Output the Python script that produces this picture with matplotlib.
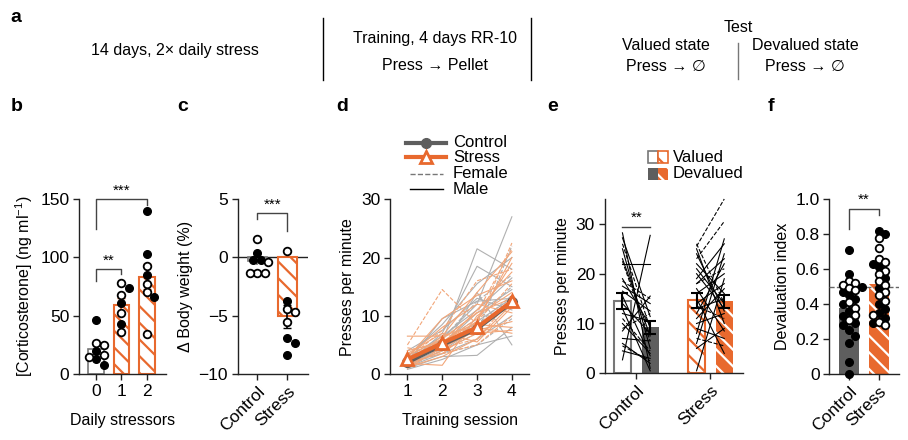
import numpy as np
import matplotlib
matplotlib.use('Agg')
import matplotlib.pyplot as plt
import matplotlib.transforms as mtransforms
from matplotlib.lines import Line2D
from matplotlib.patches import Rectangle

plt.rcParams['font.family'] = ['Liberation Sans', 'DejaVu Sans']
plt.rcParams['font.size'] = 11.5
plt.rcParams['mathtext.default'] = 'regular'
plt.rcParams['hatch.linewidth'] = 1.6
plt.rcParams['axes.linewidth'] = 1.0

ORANGE = '#e8692e'
DGRAY = '#5e5e5e'
LGRAY = '#b0b0b0'
LORANGE = '#f2a679'
INK = '#222222'

# ---- data ----
# b: corticosterone per number of daily stressors
b_groups = ['0', '1', '2']
b_filled = [[46, 20, 13, 8], [74, 61, 43], [140, 103, 85, 66]]
b_open = [[25, 27, 15, 16], [78, 68, 52, 36], [93, 77, 70, 34]]

# c: body weight change
c_groups = ['Control', 'Stress']
c_filled = [[0.4, -0.2, -0.2], [-3.7, -6.9, -7.3, -8.4]]
c_open = [[1.6, -0.4, -1.3, -1.3, -1.3], [0.55, -4.7, -4.4, -5.5]]

# d: training sessions
sessions = [1, 2, 3, 4]
ctrl_mean = [2.0, 5.0, 7.8, 12.3]
ctrl_sem = [0.3, 0.4, 0.6, 0.9]
stress_mean = [2.5, 5.3, 8.0, 12.5]
stress_sem = [0.3, 0.4, 0.6, 0.9]
ctrl_male = [
    [1.5, 4.5, 9.0, 13.0], [2.0, 6.0, 12.0, 27.0], [2.5, 5.5, 21.5, 18.0],
    [1.8, 7.0, 18.5, 15.0], [3.0, 8.5, 15.5, 20.0], [1.2, 3.5, 6.0, 10.0],
    [2.2, 5.0, 10.5, 14.5], [3.5, 4.0, 14.0, 5.0], [1.0, 3.0, 3.2, 8.0],
    [2.8, 6.5, 11.0, 16.5], [1.5, 4.0, 8.0, 12.0], [4.0, 7.5, 13.0, 11.0],
    [0.8, 2.5, 5.0, 6.5], [2.0, 9.5, 12.5, 13.0],
]
ctrl_female = [
    [2.0, 5.5, 9.5, 15.0], [1.3, 4.0, 7.0, 22.0], [2.5, 6.0, 12.5, 17.0],
    [1.8, 3.5, 5.0, 9.5], [3.0, 5.0, 8.5, 13.5],
]
stress_male = [
    [2.0, 6.5, 14.0, 21.0], [4.0, 5.5, 9.0, 20.0], [1.5, 4.0, 7.0, 7.5],
    [6.5, 6.5, 8.5, 8.0], [2.5, 5.0, 11.0, 17.5], [3.0, 8.0, 12.0, 10.5],
    [1.2, 3.0, 6.0, 12.0], [2.2, 5.5, 9.5, 19.0], [3.5, 7.0, 5.5, 11.5],
    [1.8, 1.5, 10.0, 14.0], [2.8, 9.5, 13.5, 16.0], [1.0, 4.5, 7.5, 9.0],
    [2.0, 3.5, 8.0, 7.0], [3.2, 6.0, 10.5, 13.0],
]
stress_female = [
    [5.0, 14.5, 8.5, 22.5], [2.0, 6.0, 10.5, 21.5], [3.0, 4.5, 6.0, 13.0],
    [2.5, 7.5, 16.0, 18.0], [1.5, 5.0, 9.0, 15.5], [4.5, 3.5, 5.0, 10.0],
]

# e: valued vs devalued test
e_groups = ['Control', 'Stress']
e_val_mean = [14.5, 14.7]
e_val_sem = [1.6, 1.5]
e_dev_mean = [9.2, 14.5]
e_dev_sem = [1.4, 1.3]
e_ctrl_male_val = [28.2, 27.2, 2.7, 21.9, 25.0, 19.0, 17.5, 15.5, 14.0, 12.0, 10.0, 8.5, 7.0, 6.0, 4.5, 16.5, 23.0, 13.0]
e_ctrl_male_dev = [1.0, 11.4, 27.7, 21.9, 5.0, 9.5, 14.0, 3.5, 8.0, 10.5, 4.0, 15.5, 6.5, 2.0, 3.0, 12.5, 7.5, 0.5]
e_ctrl_fem_val = [26.0, 22.5, 18.5, 11.0, 9.0, 5.5]
e_ctrl_fem_dev = [9.0, 6.5, 15.0, 4.5, 12.0, 2.5]
e_str_male_val = [0.5, 5.0, 6.0, 8.0, 10.0, 12.0, 14.0, 15.0, 17.0, 19.0, 21.0, 22.0, 24.0, 25.0, 20.0, 16.0, 13.0, 11.0, 9.0, 18.0]
e_str_male_dev = [19.0, 9.0, 24.0, 27.0, 12.0, 22.0, 18.0, 4.0, 8.5, 26.0, 14.0, 16.0, 12.5, 10.0, 13.0, 20.0, 15.0, 17.0, 7.0, 23.0]
e_str_fem_val = [25.5, 23.0, 18.0, 26.0, 7.0, 13.5]
e_str_fem_dev = [35.0, 30.5, 21.0, 14.0, 5.5, 11.0]

# f: devaluation index
f_groups = ['Control', 'Stress']
f_filled = [[0.71, 0.57, 0.50, 0.47, 0.45, 0.43, 0.40, 0.36, 0.33, 0.29, 0.28, 0.25, 0.22, 0.18, 0.07, 0.0],
            [0.82, 0.80, 0.63, 0.61, 0.55, 0.49, 0.40, 0.37, 0.35, 0.32, 0.29]]
f_open = [[0.53, 0.52, 0.51, 0.49, 0.48, 0.41, 0.38, 0.34, 0.31],
          [0.78, 0.72, 0.66, 0.64, 0.59, 0.57, 0.53, 0.51, 0.47, 0.45, 0.42, 0.34, 0.30, 0.28]]

# ---- figure ----
W, H = 908, 440
fig = plt.figure(figsize=(W / 100, H / 100), dpi=100)
px = mtransforms.Affine2D().scale(1 / W, -1 / H).translate(0, 1) + fig.transFigure


def make_axes(left, top, right, bottom):
    ax = fig.add_axes([left / W, 1 - bottom / H, (right - left) / W, (bottom - top) / H])
    ax.spines['top'].set_visible(False)
    ax.spines['right'].set_visible(False)
    for s in ('left', 'bottom'):
        ax.spines[s].set_color(INK)
    ax.tick_params(direction='out', length=4, width=1, color=INK, labelsize=12.5, pad=3)
    ax.set_facecolor('none')
    return ax


def swarm_x(ax, x0, vals, diam=7.5):
    trans = ax.transData
    inv = trans.inverted()
    vals = np.asarray(vals, float)
    order = np.argsort(-vals)
    step = diam * 0.5
    cands = [0.0] + [step * m for j in range(1, 25) for m in (j, -j)]
    placed = []
    xs = np.zeros(len(vals))
    for i in order:
        cx, cy = trans.transform((x0, vals[i]))
        for o in cands:
            if all(np.hypot(cx + o - a, cy - b) >= diam for a, b in placed):
                break
        placed.append((cx + o, cy))
        xs[i] = inv.transform((cx + o, cy))[0]
    return xs


def dots(ax, x0, filled, opened, diam=7.5):
    vals = list(filled) + list(opened)
    xs = swarm_x(ax, x0, vals, diam)
    nf = len(filled)
    ax.plot(xs[:nf], vals[:nf], 'o', ls='none', ms=5.5, mfc='black', mec='black',
            clip_on=False, zorder=5)
    ax.plot(xs[nf:], vals[nf:], 'o', ls='none', ms=5.5, mfc='white', mec='black',
            mew=1.3, clip_on=False, zorder=5)


def bracket(ax, x0, x1, yh, yl0, yl1, txt, ty):
    ax.plot([x0, x0, x1, x1], [yl0, yh, yh, yl1], color='#444444', lw=1, clip_on=False)
    ax.text((x0 + x1) / 2, ty, txt, ha='center', va='bottom', fontsize=11, clip_on=False)


def mean_sem(v):
    v = np.asarray(v, float)
    return v.mean(), v.std(ddof=1) / np.sqrt(len(v))


# ---- panel a ----
fig.text(16, 22, 'a', transform=px, fontsize=14, fontweight='bold', ha='center', va='baseline')
fig.text(175, 50, '14 days, 2\u00d7 daily stress', transform=px, ha='center', va='center')
fig.text(435, 39, 'Training, 4 days RR-10', transform=px, ha='center', va='center')
fig.text(435, 65, 'Press \u2192 Pellet', transform=px, ha='center', va='center')
fig.text(738, 28, 'Test', transform=px, ha='center', va='center')
fig.text(666, 46, 'Valued state', transform=px, ha='center', va='center')
fig.text(666, 66, 'Press \u2192 \u2205', transform=px, ha='center', va='center')
fig.text(805, 46, 'Devalued state', transform=px, ha='center', va='center')
fig.text(805, 66, 'Press \u2192 \u2205', transform=px, ha='center', va='center')
fig.add_artist(Line2D([322.7, 322.7], [18, 80], transform=px, color='black', lw=1))
fig.add_artist(Line2D([531, 531], [18, 80], transform=px, color='black', lw=1))
fig.add_artist(Line2D([738, 738], [43, 79], transform=px, color='#777777', lw=1))

for lab, x in [('b', 17), ('c', 183), ('d', 342), ('e', 553), ('f', 771)]:
    fig.text(x, 111, lab, transform=px, fontsize=14, fontweight='bold', ha='center', va='baseline')

# ---- panel b ----
axb = make_axes(79, 199, 166, 374)
axb.set_xlim(-0.67, 2.75)
axb.set_ylim(0, 150)
axb.set_yticks([0, 50, 100, 150])
axb.set_xticks(range(3))
axb.set_xticklabels(b_groups)
for i in range(3):
    m, s = mean_sem(b_filled[i] + b_open[i])
    if i == 0:
        axb.bar(i, m, width=0.62, facecolor='white', edgecolor='#777777', lw=1.2, zorder=2)
        ec = '#777777'
    else:
        axb.bar(i, m, width=0.62, facecolor='white', edgecolor=ORANGE, hatch='\\\\', lw=1.5, zorder=2)
        ec = ORANGE
    axb.errorbar(i, m, yerr=s, color=ec, capsize=3, lw=1.2, zorder=3)
    dots(axb, i, b_filled[i], b_open[i])
bracket(axb, 0, 1, 90, 80, 86, '**', 91)
bracket(axb, 0, 2, 150, 124, 145, '***', 151)
axb.set_ylabel('[Corticosterone] (ng ml$^{-1}$)')
axb.set_xlabel('Daily stressors', labelpad=10)

# ---- panel c ----
axc = make_axes(237.7, 199, 307.7, 374)
axc.set_xlim(-0.65, 1.68)
axc.set_ylim(-10, 5)
axc.set_yticks([-10, -5, 0, 5])
axc.set_xticks([0, 1])
axc.set_xticklabels(c_groups, rotation=45, ha='right', rotation_mode='anchor')
axc.axhline(0, color=INK, lw=1, zorder=1)
for i in range(2):
    m, s = mean_sem(c_filled[i] + c_open[i])
    if i == 0:
        axc.bar(i, m, width=0.63, facecolor='white', edgecolor='#777777', lw=1.2, zorder=2)
        axc.errorbar(i, m, yerr=s, color='#777777', capsize=0, lw=1.2, zorder=3)
    else:
        axc.bar(i, m, width=0.63, facecolor='white', edgecolor=ORANGE, hatch='\\\\', lw=1.5, zorder=2)
        axc.errorbar(i, m, yerr=s, color='black', capsize=3, lw=1.2, zorder=3)
    dots(axc, i, c_filled[i], c_open[i])
bracket(axc, 0, 1, 3.77, 3.3, 2.3, '***', 3.9)
axc.set_ylabel('\u0394 Body weight (%)')

# ---- panel d ----
axd = make_axes(390, 199.3, 529.3, 374)
axd.set_xlim(0.5, 4.5)
axd.set_ylim(0, 30)
axd.set_yticks([0, 10, 20, 30])
axd.set_xticks(sessions)
for row in ctrl_male:
    axd.plot(sessions, row, color=LGRAY, lw=0.8, zorder=2)
for row in ctrl_female:
    axd.plot(sessions, row, color=LGRAY, lw=0.8, ls='--', zorder=2)
for row in stress_male:
    axd.plot(sessions, row, color=LORANGE, lw=0.8, zorder=2)
for row in stress_female:
    axd.plot(sessions, row, color=LORANGE, lw=0.8, ls='--', zorder=2)
axd.errorbar(sessions, ctrl_mean, yerr=ctrl_sem, color=DGRAY, lw=3, marker='o', ms=7,
             mfc=DGRAY, mec=DGRAY, capsize=0, zorder=4)
axd.errorbar(sessions, stress_mean, yerr=stress_sem, color=ORANGE, lw=3, marker='^', ms=8,
             mfc='white', mec=ORANGE, mew=2, capsize=0, zorder=5)
axd.set_ylabel('Presses per minute')
axd.set_xlabel('Training session', labelpad=10)

# legend d
fig.add_artist(Line2D([406, 446], [142.7, 142.7], transform=px, color=DGRAY, lw=3))
fig.add_artist(Line2D([426], [142.7], transform=px, color=DGRAY, marker='o', ms=7))
fig.add_artist(Line2D([406, 446], [157, 157], transform=px, color=ORANGE, lw=3))
fig.add_artist(Line2D([426], [157], transform=px, color=ORANGE, marker='^', ms=8, mfc='white', mew=2))
fig.add_artist(Line2D([410, 443], [174, 174], transform=px, color='#777777', lw=1, ls='--'))
fig.add_artist(Line2D([410, 443], [189, 189], transform=px, color='black', lw=1))
for txt, y in [('Control', 142.7), ('Stress', 157), ('Female', 174), ('Male', 189)]:
    fig.text(453, y, txt, transform=px, ha='left', va='center', fontsize=12)

# ---- panel e ----
axe = make_axes(604.7, 199, 743, 373.3)
axe.set_xlim(-0.427, 1.44)
axe.set_ylim(0, 35)
axe.set_yticks([0, 10, 20, 30])
axe.set_xticks([0, 1])
axe.set_xticklabels(e_groups, rotation=45, ha='right', rotation_mode='anchor')
off, bw = 0.187, 0.23
axe.bar(0 - off, e_val_mean[0], width=bw, facecolor='white', edgecolor='#777777', lw=1.5, zorder=2)
axe.bar(0 + off, e_dev_mean[0], width=bw, facecolor=DGRAY, edgecolor=DGRAY, lw=0, zorder=2)
axe.bar(1 - off, e_val_mean[1], width=bw, facecolor='white', edgecolor=ORANGE, hatch='\\\\', lw=1.5, zorder=2)
axe.bar(1 + off, e_dev_mean[1], width=bw, facecolor=ORANGE, edgecolor='white', hatch='\\\\', lw=0, zorder=2)
for g, (mv, md) in enumerate([(e_ctrl_male_val, e_ctrl_male_dev), (e_str_male_val, e_str_male_dev)]):
    for a, b in zip(mv, md):
        axe.plot([g - off, g + off], [a, b], color='black', lw=0.8, zorder=3)
for g, (fv, fd) in enumerate([(e_ctrl_fem_val, e_ctrl_fem_dev), (e_str_fem_val, e_str_fem_dev)]):
    for a, b in zip(fv, fd):
        axe.plot([g - off, g + off], [a, b], color='black', lw=0.8, ls='--', zorder=3, clip_on=False)
for g in range(2):
    axe.errorbar(g - off, e_val_mean[g], yerr=e_val_sem[g], color='black', capsize=4, lw=1.5, capthick=1.5, zorder=4)
    axe.errorbar(g + off, e_dev_mean[g], yerr=e_dev_sem[g], color='black', capsize=4, lw=1.5, capthick=1.5, zorder=4)
axe.plot([-off, off], [29.4, 29.4], color='#444444', lw=1)
axe.text(0, 29.8, '**', ha='center', va='bottom', fontsize=11)
axe.set_ylabel('Presses per minute')

# legend e
fig.add_artist(Rectangle((648.3, 151), 10, 12, transform=px, facecolor='white', edgecolor='#777777', lw=1.2))
fig.add_artist(Rectangle((658.3, 151), 10, 12, transform=px, facecolor='white', edgecolor=ORANGE, hatch='\\\\', lw=1.2))
fig.add_artist(Rectangle((648.3, 167.7), 10, 12, transform=px, facecolor=DGRAY, edgecolor=DGRAY, lw=0))
fig.add_artist(Rectangle((658.3, 167.7), 10, 12, transform=px, facecolor=ORANGE, edgecolor='white', hatch='\\\\', lw=0))
fig.text(673, 157, 'Valued', transform=px, ha='left', va='center', fontsize=12)
fig.text(673, 173.7, 'Devalued', transform=px, ha='left', va='center', fontsize=12)

# ---- panel f ----
axf = make_axes(829.3, 199, 899, 374)
axf.set_xlim(-0.657, 1.667)
axf.set_ylim(0, 1)
axf.set_yticks([0, 0.2, 0.4, 0.6, 0.8, 1.0])
axf.set_yticklabels(['0', '0.2', '0.4', '0.6', '0.8', '1.0'])
axf.set_xticks([0, 1])
axf.set_xticklabels(f_groups, rotation=45, ha='right', rotation_mode='anchor')
for i in range(2):
    m, s = mean_sem(f_filled[i] + f_open[i])
    if i == 0:
        axf.bar(i, m, width=0.66, facecolor=DGRAY, edgecolor=DGRAY, lw=0, zorder=2)
    else:
        axf.bar(i, m, width=0.66, facecolor=ORANGE, edgecolor='white', hatch='\\\\', lw=0, zorder=2)
    axf.errorbar(i, m, yerr=s, color='black', capsize=0, lw=1, zorder=3)
    dots(axf, i, f_filled[i], f_open[i], diam=6.3)
axf.axhline(0.5, color='#666666', lw=1, ls='--', zorder=3)
bracket(axf, 0, 1, 0.945, 0.83, 0.91, '**', 0.955)
axf.set_ylabel('Devaluation index')

fig.savefig('out.png', dpi=100)
